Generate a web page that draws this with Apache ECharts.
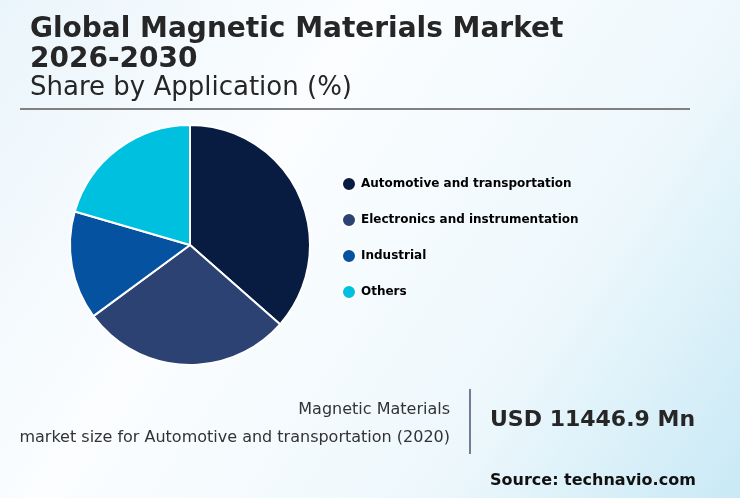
<!DOCTYPE html>
<html>
<head>
<meta charset="utf-8">
<script src="https://cdn.jsdelivr.net/npm/echarts@6/dist/echarts.min.js"></script>
<style>
  html, body { margin: 0; padding: 0; }
  #chart { width: 740px; height: 498px; }
</style>
</head>
<body>
<div id="chart"></div>
<script>
// 应用分类与份额（%）
const categories = ["Automotive and transportation", "Electronics and instrumentation", "Industrial", "Others"];
const shares = [36.5, 28.4, 14.6, 20.5];
const colors = ["#081c42", "#2c4272", "#0452a0", "#00c0e0"];

const titleLines = ["Global Magnetic Materials Market", "2026-2030"];
const subtitle = "Share by Application (%)";
const calloutLabel = ["Magnetic Materials", "market size for Automotive and transportation (2020)"];
const calloutValue = "USD 11446.9 Mn";
const sourceText = "Source: technavio.com";

const FONT = "DejaVu Sans";
const chart = echarts.init(document.getElementById("chart"));

const option = {
  backgroundColor: new echarts.graphic.LinearGradient(0, 0, 1, 1, [
    { offset: 0, color: "#eaf5fb" },
    { offset: 0.35, color: "#fbfdff" },
    { offset: 0.7, color: "#eef8fc" },
    { offset: 1, color: "#c9e9f6" },
  ]),
  textStyle: { fontFamily: FONT },
  legend: {
    orient: "vertical", left: 341, top: 176, padding: 0,
    icon: "circle", itemWidth: 14, itemHeight: 14, itemGap: 20,
    data: categories,
    textStyle: { color: "#000", fontSize: 12, fontWeight: "bold", fontFamily: FONT },
  },
  series: [{
    type: "pie", center: [190, 245], radius: 120, startAngle: 90, clockwise: true,
    label: { show: false }, labelLine: { show: false },
    itemStyle: { borderColor: "#ffffff", borderWidth: 2 },
    emphasis: { disabled: true },
    data: categories.map((c, i) => ({ name: c, value: shares[i], itemStyle: { color: colors[i] } })),
  }],
  graphic: [
    { type: "text", left: 30, top: 16, style: { text: titleLines[0], font: "bold 28px '" + FONT + "'", fill: "#262626" } },
    { type: "text", left: 30, top: 46, style: { text: titleLines[1], font: "bold 28px '" + FONT + "'", fill: "#262626" } },
    { type: "text", left: 30, top: 75, style: { text: subtitle, font: "26px '" + FONT + "'", fill: "#262626" } },
    { type: "rect", shape: { x: 20, y: 108, width: 670, height: 2 }, style: { fill: "#808080" } },
    { type: "text", right: 290, top: 402, style: { text: calloutLabel[0], font: "16px '" + FONT + "'", fill: "#333", align: "right" } },
    { type: "text", right: 290, top: 430, style: { text: calloutLabel[1], font: "16px '" + FONT + "'", fill: "#333", align: "right" } },
    { type: "rect", shape: { x: 469, y: 389, width: 2, height: 65 }, style: { fill: "#6f7e95" } },
    { type: "text", left: 490, top: 409, style: { text: calloutValue, font: "bold 22px '" + FONT + "'", fill: "#262626" } },
    { type: "text", left: 490, top: 473, style: { text: sourceText, font: "bold 16px '" + FONT + "'", fill: "#111" } },
  ],
};
chart.setOption(option);
</script>
</body>
</html>
